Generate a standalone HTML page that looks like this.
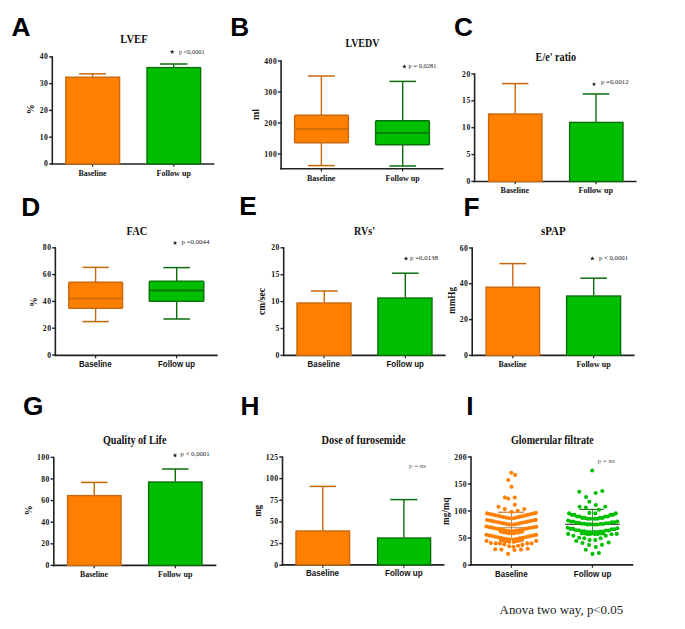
<!DOCTYPE html>
<html><head><meta charset="utf-8"><style>
html,body{margin:0;padding:0;background:#fff;overflow:hidden;}
svg{display:block;}
.S{font-family:"Liberation Serif",serif;}
.A{font-family:"Liberation Sans",sans-serif;}
</style></head><body>
<svg width="685" height="629" viewBox="0 0 685 629">
<rect width="685" height="629" fill="#fff"/>
<text class="A" x="0" y="0" font-size="25.5" font-weight="bold" fill="#000" transform="translate(11.60,35.94) scale(1.03,1)">A</text>
<text class="S" x="134.00" y="43.20" font-size="11.7" font-weight="bold" text-anchor="middle" fill="#111" textLength="27.50" lengthAdjust="spacingAndGlyphs">LVEF</text>
<line x1="52.30" y1="56.20" x2="52.30" y2="164.80" stroke="#222" stroke-width="1.6"/>
<line x1="51.50" y1="164.00" x2="214.40" y2="164.00" stroke="#222" stroke-width="1.6"/>
<line x1="49.10" y1="56.90" x2="52.30" y2="56.90" stroke="#222" stroke-width="1.4"/>
<text class="S" x="48.40" y="59.45" font-size="7.7" font-weight="bold" text-anchor="end" fill="#111" letter-spacing="0.45">40</text>
<line x1="49.10" y1="83.65" x2="52.30" y2="83.65" stroke="#222" stroke-width="1.4"/>
<text class="S" x="48.40" y="86.20" font-size="7.7" font-weight="bold" text-anchor="end" fill="#111" letter-spacing="0.45">30</text>
<line x1="49.10" y1="110.40" x2="52.30" y2="110.40" stroke="#222" stroke-width="1.4"/>
<text class="S" x="48.40" y="112.95" font-size="7.7" font-weight="bold" text-anchor="end" fill="#111" letter-spacing="0.45">20</text>
<line x1="49.10" y1="137.15" x2="52.30" y2="137.15" stroke="#222" stroke-width="1.4"/>
<text class="S" x="48.40" y="139.70" font-size="7.7" font-weight="bold" text-anchor="end" fill="#111" letter-spacing="0.45">10</text>
<line x1="49.10" y1="163.90" x2="52.30" y2="163.90" stroke="#222" stroke-width="1.4"/>
<text class="S" x="48.40" y="166.45" font-size="7.7" font-weight="bold" text-anchor="end" fill="#111" letter-spacing="0.45">0</text>
<line x1="92.60" y1="164.00" x2="92.60" y2="166.80" stroke="#222" stroke-width="1.2"/>
<line x1="173.80" y1="164.00" x2="173.80" y2="166.80" stroke="#222" stroke-width="1.2"/>
<line x1="92.60" y1="73.80" x2="92.60" y2="76.60" stroke="#C8680C" stroke-width="1.4"/>
<line x1="79.20" y1="73.80" x2="106.00" y2="73.80" stroke="#C8680C" stroke-width="1.5"/>
<rect x="65.80" y="77.20" width="53.80" height="86.80" fill="#FF8000" stroke="#C8680C" stroke-width="1.4" rx="0"/>
<line x1="173.70" y1="64.00" x2="173.70" y2="67.00" stroke="#0B6E0B" stroke-width="1.4"/>
<line x1="160.00" y1="64.00" x2="187.40" y2="64.00" stroke="#0B6E0B" stroke-width="1.5"/>
<rect x="147.00" y="67.60" width="53.60" height="96.40" fill="#00BF00" stroke="#0B6E0B" stroke-width="1.4" rx="0"/>
<polygon points="172.20,49.60 172.79,51.09 174.39,51.19 173.15,52.21 173.55,53.76 172.20,52.90 170.85,53.76 171.25,52.21 170.01,51.19 171.61,51.09" fill="#222"/>
<text class="S" x="179.00" y="53.60" font-size="6.4" font-weight="normal" text-anchor="start" fill="#222" textLength="25.60" lengthAdjust="spacingAndGlyphs">p &lt;0,0001</text>
<text class="S" x="92.60" y="175.70" font-size="8.6" font-weight="bold" text-anchor="middle" fill="#111" textLength="28.00" lengthAdjust="spacingAndGlyphs">Baseline</text>
<text class="S" x="173.80" y="175.70" font-size="8.6" font-weight="bold" text-anchor="middle" fill="#111" textLength="34.40" lengthAdjust="spacingAndGlyphs">Follow up</text>
<text class="S" x="0" y="0" font-size="10" font-weight="bold" text-anchor="middle" fill="#111" transform="translate(34.20,109.30) rotate(-90)">%</text>
<text class="A" x="0" y="0" font-size="25.5" font-weight="bold" fill="#000" transform="translate(230.20,35.94) scale(1.03,1)">B</text>
<text class="S" x="362.40" y="47.40" font-size="11.7" font-weight="bold" text-anchor="middle" fill="#111" textLength="34.00" lengthAdjust="spacingAndGlyphs">LVEDV</text>
<line x1="281.10" y1="60.30" x2="281.10" y2="169.60" stroke="#222" stroke-width="1.6"/>
<line x1="280.30" y1="168.80" x2="443.60" y2="168.80" stroke="#222" stroke-width="1.6"/>
<line x1="277.90" y1="61.00" x2="281.10" y2="61.00" stroke="#222" stroke-width="1.4"/>
<text class="S" x="277.20" y="63.55" font-size="7.7" font-weight="bold" text-anchor="end" fill="#111" letter-spacing="0.45">400</text>
<line x1="277.90" y1="92.00" x2="281.10" y2="92.00" stroke="#222" stroke-width="1.4"/>
<text class="S" x="277.20" y="94.55" font-size="7.7" font-weight="bold" text-anchor="end" fill="#111" letter-spacing="0.45">300</text>
<line x1="277.90" y1="123.00" x2="281.10" y2="123.00" stroke="#222" stroke-width="1.4"/>
<text class="S" x="277.20" y="125.55" font-size="7.7" font-weight="bold" text-anchor="end" fill="#111" letter-spacing="0.45">200</text>
<line x1="277.90" y1="154.00" x2="281.10" y2="154.00" stroke="#222" stroke-width="1.4"/>
<text class="S" x="277.20" y="156.55" font-size="7.7" font-weight="bold" text-anchor="end" fill="#111" letter-spacing="0.45">100</text>
<line x1="321.40" y1="168.80" x2="321.40" y2="171.60" stroke="#222" stroke-width="1.2"/>
<line x1="402.60" y1="168.80" x2="402.60" y2="171.60" stroke="#222" stroke-width="1.2"/>
<line x1="321.40" y1="76.00" x2="321.40" y2="165.60" stroke="#C8680C" stroke-width="1.4"/>
<line x1="308.00" y1="76.00" x2="334.80" y2="76.00" stroke="#C8680C" stroke-width="1.5"/>
<line x1="308.00" y1="165.60" x2="334.80" y2="165.60" stroke="#C8680C" stroke-width="1.5"/>
<rect x="294.60" y="115.20" width="53.80" height="27.50" fill="#FF8000" stroke="#C8680C" stroke-width="1.4" rx="0.8"/>
<line x1="294.50" y1="129.00" x2="348.50" y2="129.00" stroke="#C8680C" stroke-width="1.7"/>
<line x1="402.70" y1="81.40" x2="402.70" y2="166.00" stroke="#0B6E0B" stroke-width="1.4"/>
<line x1="389.40" y1="81.40" x2="416.00" y2="81.40" stroke="#0B6E0B" stroke-width="1.5"/>
<line x1="389.40" y1="166.00" x2="416.00" y2="166.00" stroke="#0B6E0B" stroke-width="1.5"/>
<rect x="375.60" y="120.80" width="53.80" height="24.00" fill="#00BF00" stroke="#0B6E0B" stroke-width="1.4" rx="0.8"/>
<line x1="375.50" y1="133.00" x2="429.50" y2="133.00" stroke="#0B6E0B" stroke-width="1.7"/>
<polygon points="404.40,64.30 404.99,65.79 406.59,65.89 405.35,66.91 405.75,68.46 404.40,67.60 403.05,68.46 403.45,66.91 402.21,65.89 403.81,65.79" fill="#222"/>
<text class="S" x="408.60" y="68.00" font-size="6.4" font-weight="normal" text-anchor="start" fill="#222" textLength="27.80" lengthAdjust="spacingAndGlyphs">p = 0,0281</text>
<text class="S" x="321.20" y="181.10" font-size="8.6" font-weight="bold" text-anchor="middle" fill="#111" textLength="28.40" lengthAdjust="spacingAndGlyphs">Baseline</text>
<text class="S" x="402.60" y="181.10" font-size="8.6" font-weight="bold" text-anchor="middle" fill="#111" textLength="34.00" lengthAdjust="spacingAndGlyphs">Follow up</text>
<text class="S" x="0" y="0" font-size="10" font-weight="bold" text-anchor="middle" fill="#111" textLength="11.00" lengthAdjust="spacingAndGlyphs" transform="translate(258.60,114.50) rotate(-90)">ml</text>
<text class="A" x="0" y="0" font-size="25.5" font-weight="bold" fill="#000" transform="translate(454.00,35.54) scale(1.03,1)">C</text>
<text class="S" x="555.80" y="61.00" font-size="11.7" font-weight="bold" text-anchor="middle" fill="#111" textLength="40.40" lengthAdjust="spacingAndGlyphs">E/e' ratio</text>
<line x1="474.60" y1="73.30" x2="474.60" y2="182.30" stroke="#222" stroke-width="1.6"/>
<line x1="473.80" y1="181.50" x2="636.60" y2="181.50" stroke="#222" stroke-width="1.6"/>
<line x1="471.40" y1="74.00" x2="474.60" y2="74.00" stroke="#222" stroke-width="1.4"/>
<text class="S" x="470.70" y="76.55" font-size="7.7" font-weight="bold" text-anchor="end" fill="#111" letter-spacing="0.45">20</text>
<line x1="471.40" y1="100.85" x2="474.60" y2="100.85" stroke="#222" stroke-width="1.4"/>
<text class="S" x="470.70" y="103.40" font-size="7.7" font-weight="bold" text-anchor="end" fill="#111" letter-spacing="0.45">15</text>
<line x1="471.40" y1="127.70" x2="474.60" y2="127.70" stroke="#222" stroke-width="1.4"/>
<text class="S" x="470.70" y="130.25" font-size="7.7" font-weight="bold" text-anchor="end" fill="#111" letter-spacing="0.45">10</text>
<line x1="471.40" y1="154.55" x2="474.60" y2="154.55" stroke="#222" stroke-width="1.4"/>
<text class="S" x="470.70" y="157.10" font-size="7.7" font-weight="bold" text-anchor="end" fill="#111" letter-spacing="0.45">5</text>
<line x1="471.40" y1="181.40" x2="474.60" y2="181.40" stroke="#222" stroke-width="1.4"/>
<text class="S" x="470.70" y="183.95" font-size="7.7" font-weight="bold" text-anchor="end" fill="#111" letter-spacing="0.45">0</text>
<line x1="515.20" y1="181.50" x2="515.20" y2="184.30" stroke="#222" stroke-width="1.2"/>
<line x1="596.00" y1="181.50" x2="596.00" y2="184.30" stroke="#222" stroke-width="1.2"/>
<line x1="515.20" y1="83.60" x2="515.20" y2="113.40" stroke="#C8680C" stroke-width="1.4"/>
<line x1="502.00" y1="83.60" x2="528.40" y2="83.60" stroke="#C8680C" stroke-width="1.5"/>
<rect x="488.60" y="114.00" width="53.40" height="67.50" fill="#FF8000" stroke="#C8680C" stroke-width="1.4" rx="0"/>
<line x1="596.00" y1="94.00" x2="596.00" y2="121.80" stroke="#0B6E0B" stroke-width="1.4"/>
<line x1="582.60" y1="94.00" x2="609.40" y2="94.00" stroke="#0B6E0B" stroke-width="1.5"/>
<rect x="569.60" y="122.40" width="53.40" height="59.10" fill="#00BF00" stroke="#0B6E0B" stroke-width="1.4" rx="0"/>
<polygon points="594.00,81.90 594.59,83.39 596.19,83.49 594.95,84.51 595.35,86.06 594.00,85.20 592.65,86.06 593.05,84.51 591.81,83.49 593.41,83.39" fill="#222"/>
<text class="S" x="601.00" y="84.20" font-size="6.4" font-weight="normal" text-anchor="start" fill="#222" textLength="27.60" lengthAdjust="spacingAndGlyphs">p =0,0012</text>
<text class="S" x="514.80" y="192.90" font-size="8.6" font-weight="bold" text-anchor="middle" fill="#111" textLength="28.40" lengthAdjust="spacingAndGlyphs">Baseline</text>
<text class="S" x="595.80" y="192.90" font-size="8.6" font-weight="bold" text-anchor="middle" fill="#111" textLength="34.40" lengthAdjust="spacingAndGlyphs">Follow up</text>
<text class="A" x="0" y="0" font-size="25.5" font-weight="bold" fill="#000" transform="translate(21.20,215.54) scale(1.03,1)">D</text>
<text class="S" x="137.00" y="235.00" font-size="11.7" font-weight="bold" text-anchor="middle" fill="#111" textLength="20.80" lengthAdjust="spacingAndGlyphs">FAC</text>
<line x1="55.35" y1="247.10" x2="55.35" y2="356.15" stroke="#222" stroke-width="1.6"/>
<line x1="54.55" y1="355.35" x2="217.60" y2="355.35" stroke="#222" stroke-width="1.6"/>
<line x1="52.15" y1="247.80" x2="55.35" y2="247.80" stroke="#222" stroke-width="1.4"/>
<text class="S" x="51.45" y="250.35" font-size="7.7" font-weight="bold" text-anchor="end" fill="#111" letter-spacing="0.45">80</text>
<line x1="52.15" y1="274.60" x2="55.35" y2="274.60" stroke="#222" stroke-width="1.4"/>
<text class="S" x="51.45" y="277.15" font-size="7.7" font-weight="bold" text-anchor="end" fill="#111" letter-spacing="0.45">60</text>
<line x1="52.15" y1="301.40" x2="55.35" y2="301.40" stroke="#222" stroke-width="1.4"/>
<text class="S" x="51.45" y="303.95" font-size="7.7" font-weight="bold" text-anchor="end" fill="#111" letter-spacing="0.45">40</text>
<line x1="52.15" y1="328.20" x2="55.35" y2="328.20" stroke="#222" stroke-width="1.4"/>
<text class="S" x="51.45" y="330.75" font-size="7.7" font-weight="bold" text-anchor="end" fill="#111" letter-spacing="0.45">20</text>
<line x1="52.15" y1="355.00" x2="55.35" y2="355.00" stroke="#222" stroke-width="1.4"/>
<text class="S" x="51.45" y="357.55" font-size="7.7" font-weight="bold" text-anchor="end" fill="#111" letter-spacing="0.45">0</text>
<line x1="95.60" y1="355.35" x2="95.60" y2="358.15" stroke="#222" stroke-width="1.2"/>
<line x1="176.60" y1="355.35" x2="176.60" y2="358.15" stroke="#222" stroke-width="1.2"/>
<line x1="95.60" y1="267.40" x2="95.60" y2="321.60" stroke="#C8680C" stroke-width="1.4"/>
<line x1="82.40" y1="267.40" x2="108.80" y2="267.40" stroke="#C8680C" stroke-width="1.5"/>
<line x1="82.40" y1="321.60" x2="108.80" y2="321.60" stroke="#C8680C" stroke-width="1.5"/>
<rect x="68.80" y="282.30" width="53.80" height="25.90" fill="#FF8000" stroke="#C8680C" stroke-width="1.4" rx="0.8"/>
<line x1="68.70" y1="298.50" x2="122.70" y2="298.50" stroke="#C8680C" stroke-width="1.7"/>
<line x1="176.70" y1="267.60" x2="176.70" y2="319.00" stroke="#0B6E0B" stroke-width="1.4"/>
<line x1="163.40" y1="267.60" x2="190.00" y2="267.60" stroke="#0B6E0B" stroke-width="1.5"/>
<line x1="163.40" y1="319.00" x2="190.00" y2="319.00" stroke="#0B6E0B" stroke-width="1.5"/>
<rect x="149.30" y="281.10" width="54.50" height="20.30" fill="#00BF00" stroke="#0B6E0B" stroke-width="1.4" rx="0.8"/>
<line x1="149.20" y1="290.40" x2="203.90" y2="290.40" stroke="#0B6E0B" stroke-width="1.7"/>
<polygon points="175.00,240.70 175.59,242.19 177.19,242.29 175.95,243.31 176.35,244.86 175.00,244.00 173.65,244.86 174.05,243.31 172.81,242.29 174.41,242.19" fill="#222"/>
<text class="S" x="181.60" y="244.00" font-size="6.4" font-weight="normal" text-anchor="start" fill="#222" textLength="27.80" lengthAdjust="spacingAndGlyphs">p =0,0044</text>
<text class="A" x="95.30" y="367.30" font-size="8.6" font-weight="bold" text-anchor="middle" fill="#111" textLength="32.60" lengthAdjust="spacingAndGlyphs">Baseline</text>
<text class="A" x="176.50" y="367.30" font-size="8.6" font-weight="bold" text-anchor="middle" fill="#111" textLength="37.00" lengthAdjust="spacingAndGlyphs">Follow up</text>
<text class="S" x="0" y="0" font-size="9.5" font-weight="bold" text-anchor="middle" fill="#111" transform="translate(37.20,302.00) rotate(-90)">%</text>
<text class="A" x="0" y="0" font-size="25.5" font-weight="bold" fill="#000" transform="translate(239.20,215.14) scale(1.03,1)">E</text>
<text class="S" x="364.50" y="235.00" font-size="11.7" font-weight="bold" text-anchor="middle" fill="#111" textLength="21.00" lengthAdjust="spacingAndGlyphs">RVs'</text>
<line x1="283.70" y1="247.10" x2="283.70" y2="356.15" stroke="#222" stroke-width="1.6"/>
<line x1="282.90" y1="355.35" x2="445.60" y2="355.35" stroke="#222" stroke-width="1.6"/>
<line x1="280.50" y1="247.80" x2="283.70" y2="247.80" stroke="#222" stroke-width="1.4"/>
<text class="S" x="279.80" y="250.35" font-size="7.7" font-weight="bold" text-anchor="end" fill="#111" letter-spacing="0.45">20</text>
<line x1="280.50" y1="274.70" x2="283.70" y2="274.70" stroke="#222" stroke-width="1.4"/>
<text class="S" x="279.80" y="277.25" font-size="7.7" font-weight="bold" text-anchor="end" fill="#111" letter-spacing="0.45">15</text>
<line x1="280.50" y1="301.60" x2="283.70" y2="301.60" stroke="#222" stroke-width="1.4"/>
<text class="S" x="279.80" y="304.15" font-size="7.7" font-weight="bold" text-anchor="end" fill="#111" letter-spacing="0.45">10</text>
<line x1="280.50" y1="328.50" x2="283.70" y2="328.50" stroke="#222" stroke-width="1.4"/>
<text class="S" x="279.80" y="331.05" font-size="7.7" font-weight="bold" text-anchor="end" fill="#111" letter-spacing="0.45">5</text>
<line x1="280.50" y1="355.40" x2="283.70" y2="355.40" stroke="#222" stroke-width="1.4"/>
<text class="S" x="279.80" y="357.95" font-size="7.7" font-weight="bold" text-anchor="end" fill="#111" letter-spacing="0.45">0</text>
<line x1="324.00" y1="355.35" x2="324.00" y2="358.15" stroke="#222" stroke-width="1.2"/>
<line x1="405.40" y1="355.35" x2="405.40" y2="358.15" stroke="#222" stroke-width="1.2"/>
<line x1="324.30" y1="291.00" x2="324.30" y2="302.40" stroke="#C8680C" stroke-width="1.4"/>
<line x1="311.00" y1="291.00" x2="337.60" y2="291.00" stroke="#C8680C" stroke-width="1.5"/>
<rect x="297.00" y="303.00" width="54.00" height="52.35" fill="#FF8000" stroke="#C8680C" stroke-width="1.4" rx="0"/>
<line x1="405.30" y1="273.20" x2="405.30" y2="297.40" stroke="#0B6E0B" stroke-width="1.4"/>
<line x1="392.00" y1="273.20" x2="418.60" y2="273.20" stroke="#0B6E0B" stroke-width="1.5"/>
<rect x="377.90" y="298.00" width="54.10" height="57.35" fill="#00BF00" stroke="#0B6E0B" stroke-width="1.4" rx="0"/>
<polygon points="406.00,256.30 406.59,257.79 408.19,257.89 406.95,258.91 407.35,260.46 406.00,259.60 404.65,260.46 405.05,258.91 403.81,257.89 405.41,257.79" fill="#222"/>
<text class="S" x="410.00" y="259.60" font-size="6.4" font-weight="normal" text-anchor="start" fill="#222" textLength="28.00" lengthAdjust="spacingAndGlyphs">p =0,0138</text>
<text class="A" x="323.80" y="367.30" font-size="8.6" font-weight="bold" text-anchor="middle" fill="#111" textLength="32.40" lengthAdjust="spacingAndGlyphs">Baseline</text>
<text class="A" x="405.20" y="367.30" font-size="8.6" font-weight="bold" text-anchor="middle" fill="#111" textLength="37.60" lengthAdjust="spacingAndGlyphs">Follow up</text>
<text class="S" x="0" y="0" font-size="9.6" font-weight="bold" text-anchor="middle" fill="#111" textLength="27.00" lengthAdjust="spacingAndGlyphs" transform="translate(265.40,301.50) rotate(-90)">cm/sec</text>
<text class="A" x="0" y="0" font-size="25.5" font-weight="bold" fill="#000" transform="translate(463.60,215.54) scale(1.03,1)">F</text>
<text class="S" x="553.30" y="235.00" font-size="11.7" font-weight="bold" text-anchor="middle" fill="#111" textLength="24.60" lengthAdjust="spacingAndGlyphs">sPAP</text>
<line x1="472.20" y1="247.30" x2="472.20" y2="356.15" stroke="#222" stroke-width="1.6"/>
<line x1="471.40" y1="355.35" x2="634.60" y2="355.35" stroke="#222" stroke-width="1.6"/>
<line x1="469.00" y1="248.00" x2="472.20" y2="248.00" stroke="#222" stroke-width="1.4"/>
<text class="S" x="468.30" y="250.55" font-size="7.7" font-weight="bold" text-anchor="end" fill="#111" letter-spacing="0.45">60</text>
<line x1="469.00" y1="283.80" x2="472.20" y2="283.80" stroke="#222" stroke-width="1.4"/>
<text class="S" x="468.30" y="286.35" font-size="7.7" font-weight="bold" text-anchor="end" fill="#111" letter-spacing="0.45">40</text>
<line x1="469.00" y1="319.60" x2="472.20" y2="319.60" stroke="#222" stroke-width="1.4"/>
<text class="S" x="468.30" y="322.15" font-size="7.7" font-weight="bold" text-anchor="end" fill="#111" letter-spacing="0.45">20</text>
<line x1="469.00" y1="355.40" x2="472.20" y2="355.40" stroke="#222" stroke-width="1.4"/>
<text class="S" x="468.30" y="357.95" font-size="7.7" font-weight="bold" text-anchor="end" fill="#111" letter-spacing="0.45">0</text>
<line x1="512.80" y1="355.35" x2="512.80" y2="358.15" stroke="#222" stroke-width="1.2"/>
<line x1="593.60" y1="355.35" x2="593.60" y2="358.15" stroke="#222" stroke-width="1.2"/>
<line x1="512.80" y1="263.60" x2="512.80" y2="286.60" stroke="#C8680C" stroke-width="1.4"/>
<line x1="499.40" y1="263.60" x2="526.20" y2="263.60" stroke="#C8680C" stroke-width="1.5"/>
<rect x="486.10" y="287.20" width="53.50" height="68.15" fill="#FF8000" stroke="#C8680C" stroke-width="1.4" rx="0"/>
<line x1="593.70" y1="278.20" x2="593.70" y2="295.40" stroke="#0B6E0B" stroke-width="1.4"/>
<line x1="580.40" y1="278.20" x2="607.00" y2="278.20" stroke="#0B6E0B" stroke-width="1.5"/>
<rect x="566.60" y="296.00" width="54.00" height="59.35" fill="#00BF00" stroke="#0B6E0B" stroke-width="1.4" rx="0"/>
<polygon points="592.40,256.30 592.99,257.79 594.59,257.89 593.35,258.91 593.75,260.46 592.40,259.60 591.05,260.46 591.45,258.91 590.21,257.89 591.81,257.79" fill="#222"/>
<text class="S" x="599.00" y="259.60" font-size="6.4" font-weight="normal" text-anchor="start" fill="#222" textLength="29.00" lengthAdjust="spacingAndGlyphs">p &lt; 0,0001</text>
<text class="S" x="512.50" y="367.10" font-size="8.6" font-weight="bold" text-anchor="middle" fill="#111" textLength="28.20" lengthAdjust="spacingAndGlyphs">Baseline</text>
<text class="S" x="593.60" y="367.10" font-size="8.6" font-weight="bold" text-anchor="middle" fill="#111" textLength="34.40" lengthAdjust="spacingAndGlyphs">Follow up</text>
<text class="S" x="0" y="0" font-size="9.6" font-weight="bold" text-anchor="middle" fill="#111" textLength="27.00" lengthAdjust="spacingAndGlyphs" transform="translate(455.00,300.50) rotate(-90)">mmHg</text>
<text class="A" x="0" y="0" font-size="25.5" font-weight="bold" fill="#000" transform="translate(23.00,414.54) scale(1.03,1)">G</text>
<text class="S" x="134.70" y="443.60" font-size="11.7" font-weight="bold" text-anchor="middle" fill="#111" textLength="63.40" lengthAdjust="spacingAndGlyphs">Quality of Life</text>
<line x1="53.80" y1="456.70" x2="53.80" y2="566.15" stroke="#222" stroke-width="1.6"/>
<line x1="53.00" y1="565.35" x2="216.40" y2="565.35" stroke="#222" stroke-width="1.6"/>
<line x1="50.60" y1="457.40" x2="53.80" y2="457.40" stroke="#222" stroke-width="1.4"/>
<text class="S" x="49.90" y="459.95" font-size="7.7" font-weight="bold" text-anchor="end" fill="#111" letter-spacing="0.45">100</text>
<line x1="50.60" y1="479.00" x2="53.80" y2="479.00" stroke="#222" stroke-width="1.4"/>
<text class="S" x="49.90" y="481.55" font-size="7.7" font-weight="bold" text-anchor="end" fill="#111" letter-spacing="0.45">80</text>
<line x1="50.60" y1="500.60" x2="53.80" y2="500.60" stroke="#222" stroke-width="1.4"/>
<text class="S" x="49.90" y="503.15" font-size="7.7" font-weight="bold" text-anchor="end" fill="#111" letter-spacing="0.45">60</text>
<line x1="50.60" y1="522.20" x2="53.80" y2="522.20" stroke="#222" stroke-width="1.4"/>
<text class="S" x="49.90" y="524.75" font-size="7.7" font-weight="bold" text-anchor="end" fill="#111" letter-spacing="0.45">40</text>
<line x1="50.60" y1="543.80" x2="53.80" y2="543.80" stroke="#222" stroke-width="1.4"/>
<text class="S" x="49.90" y="546.35" font-size="7.7" font-weight="bold" text-anchor="end" fill="#111" letter-spacing="0.45">20</text>
<line x1="50.60" y1="565.40" x2="53.80" y2="565.40" stroke="#222" stroke-width="1.4"/>
<text class="S" x="49.90" y="567.95" font-size="7.7" font-weight="bold" text-anchor="end" fill="#111" letter-spacing="0.45">0</text>
<line x1="94.20" y1="565.35" x2="94.20" y2="568.15" stroke="#222" stroke-width="1.2"/>
<line x1="175.40" y1="565.35" x2="175.40" y2="568.15" stroke="#222" stroke-width="1.2"/>
<line x1="94.30" y1="482.40" x2="94.30" y2="495.00" stroke="#C8680C" stroke-width="1.4"/>
<line x1="81.00" y1="482.40" x2="107.60" y2="482.40" stroke="#C8680C" stroke-width="1.5"/>
<rect x="67.60" y="495.60" width="53.40" height="69.75" fill="#FF8000" stroke="#C8680C" stroke-width="1.4" rx="0"/>
<line x1="175.30" y1="469.00" x2="175.30" y2="481.40" stroke="#0B6E0B" stroke-width="1.4"/>
<line x1="162.00" y1="469.00" x2="188.60" y2="469.00" stroke="#0B6E0B" stroke-width="1.5"/>
<rect x="148.60" y="482.00" width="53.40" height="83.35" fill="#00BF00" stroke="#0B6E0B" stroke-width="1.4" rx="0"/>
<polygon points="175.00,453.10 175.59,454.59 177.19,454.69 175.95,455.71 176.35,457.26 175.00,456.40 173.65,457.26 174.05,455.71 172.81,454.69 174.41,454.59" fill="#222"/>
<text class="S" x="180.60" y="456.40" font-size="6.4" font-weight="normal" text-anchor="start" fill="#222" textLength="29.00" lengthAdjust="spacingAndGlyphs">p &lt; 0,0001</text>
<text class="S" x="94.00" y="577.10" font-size="8.6" font-weight="bold" text-anchor="middle" fill="#111" textLength="28.00" lengthAdjust="spacingAndGlyphs">Baseline</text>
<text class="S" x="175.20" y="577.10" font-size="8.6" font-weight="bold" text-anchor="middle" fill="#111" textLength="34.40" lengthAdjust="spacingAndGlyphs">Follow up</text>
<text class="S" x="0" y="0" font-size="10" font-weight="bold" text-anchor="middle" fill="#111" transform="translate(31.60,510.30) rotate(-90)">%</text>
<text class="A" x="0" y="0" font-size="25.5" font-weight="bold" fill="#000" transform="translate(240.60,414.54) scale(1.03,1)">H</text>
<text class="S" x="363.60" y="444.40" font-size="11.7" font-weight="bold" text-anchor="middle" fill="#111" textLength="84.00" lengthAdjust="spacingAndGlyphs">Dose of furosemide</text>
<line x1="282.50" y1="456.30" x2="282.50" y2="565.70" stroke="#222" stroke-width="1.6"/>
<line x1="281.70" y1="564.90" x2="444.40" y2="564.90" stroke="#222" stroke-width="1.6"/>
<line x1="279.30" y1="457.00" x2="282.50" y2="457.00" stroke="#222" stroke-width="1.4"/>
<text class="S" x="278.60" y="459.55" font-size="7.7" font-weight="bold" text-anchor="end" fill="#111" letter-spacing="0.45">125</text>
<line x1="279.30" y1="478.64" x2="282.50" y2="478.64" stroke="#222" stroke-width="1.4"/>
<text class="S" x="278.60" y="481.19" font-size="7.7" font-weight="bold" text-anchor="end" fill="#111" letter-spacing="0.45">100</text>
<line x1="279.30" y1="500.28" x2="282.50" y2="500.28" stroke="#222" stroke-width="1.4"/>
<text class="S" x="278.60" y="502.83" font-size="7.7" font-weight="bold" text-anchor="end" fill="#111" letter-spacing="0.45">75</text>
<line x1="279.30" y1="521.92" x2="282.50" y2="521.92" stroke="#222" stroke-width="1.4"/>
<text class="S" x="278.60" y="524.47" font-size="7.7" font-weight="bold" text-anchor="end" fill="#111" letter-spacing="0.45">50</text>
<line x1="279.30" y1="543.56" x2="282.50" y2="543.56" stroke="#222" stroke-width="1.4"/>
<text class="S" x="278.60" y="546.11" font-size="7.7" font-weight="bold" text-anchor="end" fill="#111" letter-spacing="0.45">25</text>
<line x1="279.30" y1="565.20" x2="282.50" y2="565.20" stroke="#222" stroke-width="1.4"/>
<text class="S" x="278.60" y="567.75" font-size="7.7" font-weight="bold" text-anchor="end" fill="#111" letter-spacing="0.45">0</text>
<line x1="322.80" y1="564.90" x2="322.80" y2="567.70" stroke="#222" stroke-width="1.2"/>
<line x1="403.80" y1="564.90" x2="403.80" y2="567.70" stroke="#222" stroke-width="1.2"/>
<line x1="322.80" y1="486.40" x2="322.80" y2="530.40" stroke="#C8680C" stroke-width="1.4"/>
<line x1="309.60" y1="486.40" x2="336.00" y2="486.40" stroke="#C8680C" stroke-width="1.5"/>
<rect x="296.00" y="531.00" width="53.60" height="33.90" fill="#FF8000" stroke="#C8680C" stroke-width="1.4" rx="0"/>
<line x1="403.90" y1="499.60" x2="403.90" y2="537.40" stroke="#0B6E0B" stroke-width="1.4"/>
<line x1="390.40" y1="499.60" x2="417.40" y2="499.60" stroke="#0B6E0B" stroke-width="1.5"/>
<rect x="377.60" y="538.00" width="53.00" height="26.90" fill="#00BF00" stroke="#0B6E0B" stroke-width="1.4" rx="0"/>
<text class="S" x="409.00" y="468.00" font-size="5.6" font-weight="normal" text-anchor="start" fill="#555" textLength="17.00" lengthAdjust="spacingAndGlyphs">p = ns</text>
<text class="A" x="322.50" y="576.30" font-size="8.6" font-weight="bold" text-anchor="middle" fill="#111" textLength="33.00" lengthAdjust="spacingAndGlyphs">Baseline</text>
<text class="A" x="403.80" y="576.30" font-size="8.6" font-weight="bold" text-anchor="middle" fill="#111" textLength="37.60" lengthAdjust="spacingAndGlyphs">Follow up</text>
<text class="S" x="0" y="0" font-size="9.6" font-weight="bold" text-anchor="middle" fill="#111" textLength="11.60" lengthAdjust="spacingAndGlyphs" transform="translate(261.40,510.80) rotate(-90)">mg</text>
<text class="A" x="0" y="0" font-size="25.5" font-weight="bold" fill="#000" transform="translate(466.20,414.54) scale(1.03,1)">I</text>
<text class="S" x="552.40" y="444.00" font-size="11.7" font-weight="bold" text-anchor="middle" fill="#111" textLength="82.80" lengthAdjust="spacingAndGlyphs">Glomerular filtrate</text>
<line x1="471.00" y1="456.30" x2="471.00" y2="565.70" stroke="#222" stroke-width="1.6"/>
<line x1="470.20" y1="564.90" x2="633.30" y2="564.90" stroke="#222" stroke-width="1.6"/>
<line x1="467.80" y1="457.00" x2="471.00" y2="457.00" stroke="#222" stroke-width="1.4"/>
<text class="S" x="467.10" y="459.55" font-size="7.7" font-weight="bold" text-anchor="end" fill="#111" letter-spacing="0.45">200</text>
<line x1="467.80" y1="484.02" x2="471.00" y2="484.02" stroke="#222" stroke-width="1.4"/>
<text class="S" x="467.10" y="486.57" font-size="7.7" font-weight="bold" text-anchor="end" fill="#111" letter-spacing="0.45">150</text>
<line x1="467.80" y1="511.05" x2="471.00" y2="511.05" stroke="#222" stroke-width="1.4"/>
<text class="S" x="467.10" y="513.60" font-size="7.7" font-weight="bold" text-anchor="end" fill="#111" letter-spacing="0.45">100</text>
<line x1="467.80" y1="538.08" x2="471.00" y2="538.08" stroke="#222" stroke-width="1.4"/>
<text class="S" x="467.10" y="540.62" font-size="7.7" font-weight="bold" text-anchor="end" fill="#111" letter-spacing="0.45">50</text>
<line x1="467.80" y1="565.10" x2="471.00" y2="565.10" stroke="#222" stroke-width="1.4"/>
<text class="S" x="467.10" y="567.65" font-size="7.7" font-weight="bold" text-anchor="end" fill="#111" letter-spacing="0.45">0</text>
<line x1="511.40" y1="564.90" x2="511.40" y2="567.70" stroke="#222" stroke-width="1.2"/>
<line x1="592.40" y1="564.90" x2="592.40" y2="567.70" stroke="#222" stroke-width="1.2"/>
<text class="S" x="597.50" y="463.30" font-size="5.6" font-weight="normal" text-anchor="start" fill="#555" textLength="17.20" lengthAdjust="spacingAndGlyphs">p = ns</text>
<text class="A" x="511.30" y="576.70" font-size="8.6" font-weight="bold" text-anchor="middle" fill="#111" textLength="32.60" lengthAdjust="spacingAndGlyphs">Baseline</text>
<text class="A" x="592.60" y="576.70" font-size="8.6" font-weight="bold" text-anchor="middle" fill="#111" textLength="37.60" lengthAdjust="spacingAndGlyphs">Follow up</text>
<text class="S" x="0" y="0" font-size="9.6" font-weight="bold" text-anchor="middle" fill="#111" textLength="27.60" lengthAdjust="spacingAndGlyphs" transform="translate(449.20,511.20) rotate(-90)">mg/mq</text>
<line x1="498.1" y1="512.2" x2="523.9" y2="512.2" stroke="#C8680C" stroke-width="1.1"/>
<line x1="511.5" y1="512.2" x2="511.5" y2="540" stroke="#C8680C" stroke-width="0.9" opacity="0.85"/>
<line x1="494.7" y1="527.7" x2="527.2" y2="527.7" stroke="#8a4a00" stroke-width="0.9" opacity="0.7"/>
<line x1="579.6" y1="509.4" x2="603.9" y2="509.4" stroke="#0B6E0B" stroke-width="1.1"/>
<line x1="592.5" y1="509.4" x2="592.5" y2="535.3" stroke="#0B6E0B" stroke-width="0.9" opacity="0.85"/>
<line x1="565.2" y1="524.3" x2="619.7" y2="524.3" stroke="#1a1a1a" stroke-width="1.0"/>
<circle cx="511.20" cy="472.70" r="2.05" fill="#FF8000"/>
<circle cx="515.10" cy="474.90" r="2.05" fill="#FF8000"/>
<circle cx="508.20" cy="480.00" r="2.05" fill="#FF8000"/>
<circle cx="511.50" cy="486.80" r="2.05" fill="#FF8000"/>
<circle cx="504.90" cy="497.50" r="2.05" fill="#FF8000"/>
<circle cx="508.20" cy="498.50" r="2.05" fill="#FF8000"/>
<circle cx="514.80" cy="497.50" r="2.05" fill="#FF8000"/>
<circle cx="498.60" cy="506.70" r="2.05" fill="#FF8000"/>
<circle cx="514.80" cy="504.80" r="2.05" fill="#FF8000"/>
<circle cx="504.80" cy="509.10" r="2.05" fill="#FF8000"/>
<circle cx="524.30" cy="509.10" r="2.05" fill="#FF8000"/>
<circle cx="511.50" cy="511.90" r="2.05" fill="#FF8000"/>
<circle cx="517.70" cy="510.70" r="2.05" fill="#FF8000"/>
<circle cx="509.30" cy="518.31" r="2.05" fill="#FF8000"/>
<circle cx="506.53" cy="517.70" r="2.05" fill="#FF8000"/>
<circle cx="503.75" cy="517.08" r="2.05" fill="#FF8000"/>
<circle cx="500.98" cy="516.47" r="2.05" fill="#FF8000"/>
<circle cx="498.20" cy="515.86" r="2.05" fill="#FF8000"/>
<circle cx="495.43" cy="515.24" r="2.05" fill="#FF8000"/>
<circle cx="492.65" cy="514.63" r="2.05" fill="#FF8000"/>
<circle cx="489.88" cy="514.01" r="2.05" fill="#FF8000"/>
<circle cx="487.10" cy="513.40" r="2.05" fill="#FF8000"/>
<circle cx="513.70" cy="518.27" r="2.05" fill="#FF8000"/>
<circle cx="516.46" cy="517.60" r="2.05" fill="#FF8000"/>
<circle cx="519.23" cy="516.92" r="2.05" fill="#FF8000"/>
<circle cx="521.99" cy="516.25" r="2.05" fill="#FF8000"/>
<circle cx="524.75" cy="515.58" r="2.05" fill="#FF8000"/>
<circle cx="527.51" cy="514.91" r="2.05" fill="#FF8000"/>
<circle cx="530.27" cy="514.24" r="2.05" fill="#FF8000"/>
<circle cx="533.04" cy="513.57" r="2.05" fill="#FF8000"/>
<circle cx="535.80" cy="512.90" r="2.05" fill="#FF8000"/>
<circle cx="509.30" cy="524.55" r="2.05" fill="#FF8000"/>
<circle cx="506.53" cy="523.98" r="2.05" fill="#FF8000"/>
<circle cx="503.75" cy="523.41" r="2.05" fill="#FF8000"/>
<circle cx="500.98" cy="522.84" r="2.05" fill="#FF8000"/>
<circle cx="498.20" cy="522.27" r="2.05" fill="#FF8000"/>
<circle cx="495.43" cy="521.71" r="2.05" fill="#FF8000"/>
<circle cx="492.65" cy="521.14" r="2.05" fill="#FF8000"/>
<circle cx="489.88" cy="520.57" r="2.05" fill="#FF8000"/>
<circle cx="487.10" cy="520.00" r="2.05" fill="#FF8000"/>
<circle cx="513.70" cy="524.54" r="2.05" fill="#FF8000"/>
<circle cx="516.46" cy="523.96" r="2.05" fill="#FF8000"/>
<circle cx="519.23" cy="523.38" r="2.05" fill="#FF8000"/>
<circle cx="521.99" cy="522.80" r="2.05" fill="#FF8000"/>
<circle cx="524.75" cy="522.22" r="2.05" fill="#FF8000"/>
<circle cx="527.51" cy="521.64" r="2.05" fill="#FF8000"/>
<circle cx="530.27" cy="521.06" r="2.05" fill="#FF8000"/>
<circle cx="533.04" cy="520.48" r="2.05" fill="#FF8000"/>
<circle cx="535.80" cy="519.90" r="2.05" fill="#FF8000"/>
<circle cx="509.30" cy="531.15" r="2.05" fill="#FF8000"/>
<circle cx="506.44" cy="530.57" r="2.05" fill="#FF8000"/>
<circle cx="503.57" cy="529.99" r="2.05" fill="#FF8000"/>
<circle cx="500.71" cy="529.41" r="2.05" fill="#FF8000"/>
<circle cx="497.85" cy="528.83" r="2.05" fill="#FF8000"/>
<circle cx="494.99" cy="528.24" r="2.05" fill="#FF8000"/>
<circle cx="492.12" cy="527.66" r="2.05" fill="#FF8000"/>
<circle cx="489.26" cy="527.08" r="2.05" fill="#FF8000"/>
<circle cx="486.40" cy="526.50" r="2.05" fill="#FF8000"/>
<circle cx="513.70" cy="531.17" r="2.05" fill="#FF8000"/>
<circle cx="516.53" cy="530.61" r="2.05" fill="#FF8000"/>
<circle cx="519.35" cy="530.05" r="2.05" fill="#FF8000"/>
<circle cx="522.17" cy="529.49" r="2.05" fill="#FF8000"/>
<circle cx="525.00" cy="528.93" r="2.05" fill="#FF8000"/>
<circle cx="527.83" cy="528.37" r="2.05" fill="#FF8000"/>
<circle cx="530.65" cy="527.82" r="2.05" fill="#FF8000"/>
<circle cx="533.47" cy="527.26" r="2.05" fill="#FF8000"/>
<circle cx="536.30" cy="526.70" r="2.05" fill="#FF8000"/>
<circle cx="509.30" cy="533.35" r="2.05" fill="#FF8000"/>
<circle cx="506.44" cy="532.77" r="2.05" fill="#FF8000"/>
<circle cx="503.57" cy="532.19" r="2.05" fill="#FF8000"/>
<circle cx="500.71" cy="531.61" r="2.05" fill="#FF8000"/>
<circle cx="513.70" cy="533.37" r="2.05" fill="#FF8000"/>
<circle cx="516.53" cy="532.81" r="2.05" fill="#FF8000"/>
<circle cx="519.35" cy="532.25" r="2.05" fill="#FF8000"/>
<circle cx="522.17" cy="531.69" r="2.05" fill="#FF8000"/>
<circle cx="509.30" cy="539.64" r="2.05" fill="#FF8000"/>
<circle cx="506.44" cy="539.03" r="2.05" fill="#FF8000"/>
<circle cx="503.57" cy="538.43" r="2.05" fill="#FF8000"/>
<circle cx="500.71" cy="537.82" r="2.05" fill="#FF8000"/>
<circle cx="497.85" cy="537.22" r="2.05" fill="#FF8000"/>
<circle cx="494.99" cy="536.61" r="2.05" fill="#FF8000"/>
<circle cx="492.12" cy="536.01" r="2.05" fill="#FF8000"/>
<circle cx="489.26" cy="535.40" r="2.05" fill="#FF8000"/>
<circle cx="486.40" cy="534.80" r="2.05" fill="#FF8000"/>
<circle cx="513.70" cy="539.63" r="2.05" fill="#FF8000"/>
<circle cx="516.53" cy="539.03" r="2.05" fill="#FF8000"/>
<circle cx="519.35" cy="538.42" r="2.05" fill="#FF8000"/>
<circle cx="522.17" cy="537.82" r="2.05" fill="#FF8000"/>
<circle cx="525.00" cy="537.21" r="2.05" fill="#FF8000"/>
<circle cx="527.83" cy="536.61" r="2.05" fill="#FF8000"/>
<circle cx="530.65" cy="536.01" r="2.05" fill="#FF8000"/>
<circle cx="533.47" cy="535.40" r="2.05" fill="#FF8000"/>
<circle cx="536.30" cy="534.80" r="2.05" fill="#FF8000"/>
<circle cx="509.30" cy="541.84" r="2.05" fill="#FF8000"/>
<circle cx="506.44" cy="541.23" r="2.05" fill="#FF8000"/>
<circle cx="503.57" cy="540.63" r="2.05" fill="#FF8000"/>
<circle cx="500.71" cy="540.02" r="2.05" fill="#FF8000"/>
<circle cx="513.70" cy="541.83" r="2.05" fill="#FF8000"/>
<circle cx="516.53" cy="541.23" r="2.05" fill="#FF8000"/>
<circle cx="519.35" cy="540.62" r="2.05" fill="#FF8000"/>
<circle cx="522.17" cy="540.02" r="2.05" fill="#FF8000"/>
<circle cx="486.60" cy="540.90" r="2.05" fill="#FF8000"/>
<circle cx="490.90" cy="543.00" r="2.05" fill="#FF8000"/>
<circle cx="495.70" cy="543.40" r="2.05" fill="#FF8000"/>
<circle cx="500.00" cy="543.40" r="2.05" fill="#FF8000"/>
<circle cx="504.30" cy="544.40" r="2.05" fill="#FF8000"/>
<circle cx="509.10" cy="546.30" r="2.05" fill="#FF8000"/>
<circle cx="513.40" cy="546.80" r="2.05" fill="#FF8000"/>
<circle cx="518.10" cy="545.80" r="2.05" fill="#FF8000"/>
<circle cx="522.40" cy="544.90" r="2.05" fill="#FF8000"/>
<circle cx="527.20" cy="543.40" r="2.05" fill="#FF8000"/>
<circle cx="531.50" cy="543.40" r="2.05" fill="#FF8000"/>
<circle cx="536.30" cy="540.90" r="2.05" fill="#FF8000"/>
<circle cx="495.20" cy="549.20" r="2.05" fill="#FF8000"/>
<circle cx="501.40" cy="549.60" r="2.05" fill="#FF8000"/>
<circle cx="514.50" cy="550.10" r="2.05" fill="#FF8000"/>
<circle cx="521.00" cy="549.60" r="2.05" fill="#FF8000"/>
<circle cx="527.70" cy="548.70" r="2.05" fill="#FF8000"/>
<circle cx="508.10" cy="553.90" r="2.05" fill="#FF8000"/>
<circle cx="592.20" cy="470.50" r="2.05" fill="#00BF00"/>
<circle cx="579.30" cy="491.70" r="2.05" fill="#00BF00"/>
<circle cx="595.70" cy="493.00" r="2.05" fill="#00BF00"/>
<circle cx="602.30" cy="491.00" r="2.05" fill="#00BF00"/>
<circle cx="586.10" cy="497.00" r="2.05" fill="#00BF00"/>
<circle cx="589.30" cy="501.80" r="2.05" fill="#00BF00"/>
<circle cx="579.60" cy="506.70" r="2.05" fill="#00BF00"/>
<circle cx="585.80" cy="507.60" r="2.05" fill="#00BF00"/>
<circle cx="595.80" cy="505.00" r="2.05" fill="#00BF00"/>
<circle cx="605.30" cy="506.70" r="2.05" fill="#00BF00"/>
<circle cx="598.90" cy="509.80" r="2.05" fill="#00BF00"/>
<circle cx="589.40" cy="512.90" r="2.05" fill="#00BF00"/>
<circle cx="595.30" cy="513.40" r="2.05" fill="#00BF00"/>
<circle cx="590.20" cy="518.82" r="2.05" fill="#00BF00"/>
<circle cx="587.56" cy="518.82" r="2.05" fill="#00BF00"/>
<circle cx="584.92" cy="517.90" r="2.05" fill="#00BF00"/>
<circle cx="582.29" cy="517.90" r="2.05" fill="#00BF00"/>
<circle cx="579.65" cy="516.56" r="2.05" fill="#00BF00"/>
<circle cx="577.01" cy="516.56" r="2.05" fill="#00BF00"/>
<circle cx="574.38" cy="514.87" r="2.05" fill="#00BF00"/>
<circle cx="571.74" cy="514.87" r="2.05" fill="#00BF00"/>
<circle cx="569.10" cy="513.40" r="2.05" fill="#00BF00"/>
<circle cx="594.60" cy="518.82" r="2.05" fill="#00BF00"/>
<circle cx="597.25" cy="518.82" r="2.05" fill="#00BF00"/>
<circle cx="599.90" cy="517.90" r="2.05" fill="#00BF00"/>
<circle cx="602.55" cy="517.90" r="2.05" fill="#00BF00"/>
<circle cx="605.20" cy="516.56" r="2.05" fill="#00BF00"/>
<circle cx="607.85" cy="516.56" r="2.05" fill="#00BF00"/>
<circle cx="610.50" cy="514.87" r="2.05" fill="#00BF00"/>
<circle cx="613.15" cy="514.87" r="2.05" fill="#00BF00"/>
<circle cx="615.80" cy="513.40" r="2.05" fill="#00BF00"/>
<circle cx="590.20" cy="524.41" r="2.05" fill="#00BF00"/>
<circle cx="587.44" cy="524.41" r="2.05" fill="#00BF00"/>
<circle cx="584.67" cy="523.75" r="2.05" fill="#00BF00"/>
<circle cx="581.91" cy="523.75" r="2.05" fill="#00BF00"/>
<circle cx="579.15" cy="522.78" r="2.05" fill="#00BF00"/>
<circle cx="576.39" cy="522.78" r="2.05" fill="#00BF00"/>
<circle cx="573.62" cy="521.56" r="2.05" fill="#00BF00"/>
<circle cx="570.86" cy="521.56" r="2.05" fill="#00BF00"/>
<circle cx="568.10" cy="520.50" r="2.05" fill="#00BF00"/>
<circle cx="594.60" cy="524.46" r="2.05" fill="#00BF00"/>
<circle cx="597.44" cy="524.46" r="2.05" fill="#00BF00"/>
<circle cx="600.27" cy="523.96" r="2.05" fill="#00BF00"/>
<circle cx="603.11" cy="523.96" r="2.05" fill="#00BF00"/>
<circle cx="605.95" cy="523.23" r="2.05" fill="#00BF00"/>
<circle cx="608.79" cy="523.23" r="2.05" fill="#00BF00"/>
<circle cx="611.62" cy="522.30" r="2.05" fill="#00BF00"/>
<circle cx="614.46" cy="522.30" r="2.05" fill="#00BF00"/>
<circle cx="617.30" cy="521.50" r="2.05" fill="#00BF00"/>
<circle cx="590.20" cy="532.09" r="2.05" fill="#00BF00"/>
<circle cx="587.38" cy="532.09" r="2.05" fill="#00BF00"/>
<circle cx="584.55" cy="531.35" r="2.05" fill="#00BF00"/>
<circle cx="581.72" cy="531.35" r="2.05" fill="#00BF00"/>
<circle cx="578.90" cy="530.26" r="2.05" fill="#00BF00"/>
<circle cx="576.08" cy="530.26" r="2.05" fill="#00BF00"/>
<circle cx="573.25" cy="528.89" r="2.05" fill="#00BF00"/>
<circle cx="570.42" cy="528.89" r="2.05" fill="#00BF00"/>
<circle cx="567.60" cy="527.70" r="2.05" fill="#00BF00"/>
<circle cx="594.60" cy="532.11" r="2.05" fill="#00BF00"/>
<circle cx="597.44" cy="532.11" r="2.05" fill="#00BF00"/>
<circle cx="600.27" cy="531.45" r="2.05" fill="#00BF00"/>
<circle cx="603.11" cy="531.45" r="2.05" fill="#00BF00"/>
<circle cx="605.95" cy="530.48" r="2.05" fill="#00BF00"/>
<circle cx="608.79" cy="530.48" r="2.05" fill="#00BF00"/>
<circle cx="611.62" cy="529.26" r="2.05" fill="#00BF00"/>
<circle cx="614.46" cy="529.26" r="2.05" fill="#00BF00"/>
<circle cx="617.30" cy="528.20" r="2.05" fill="#00BF00"/>
<circle cx="590.20" cy="534.09" r="2.05" fill="#00BF00"/>
<circle cx="587.38" cy="534.09" r="2.05" fill="#00BF00"/>
<circle cx="584.55" cy="533.35" r="2.05" fill="#00BF00"/>
<circle cx="581.72" cy="533.35" r="2.05" fill="#00BF00"/>
<circle cx="594.60" cy="534.11" r="2.05" fill="#00BF00"/>
<circle cx="597.44" cy="534.11" r="2.05" fill="#00BF00"/>
<circle cx="600.27" cy="533.45" r="2.05" fill="#00BF00"/>
<circle cx="603.11" cy="533.45" r="2.05" fill="#00BF00"/>
<circle cx="568.10" cy="533.90" r="2.05" fill="#00BF00"/>
<circle cx="573.40" cy="535.80" r="2.05" fill="#00BF00"/>
<circle cx="579.10" cy="537.70" r="2.05" fill="#00BF00"/>
<circle cx="584.30" cy="538.20" r="2.05" fill="#00BF00"/>
<circle cx="589.60" cy="540.10" r="2.05" fill="#00BF00"/>
<circle cx="595.30" cy="540.10" r="2.05" fill="#00BF00"/>
<circle cx="600.60" cy="538.20" r="2.05" fill="#00BF00"/>
<circle cx="605.80" cy="535.80" r="2.05" fill="#00BF00"/>
<circle cx="611.50" cy="534.20" r="2.05" fill="#00BF00"/>
<circle cx="616.80" cy="533.90" r="2.05" fill="#00BF00"/>
<circle cx="576.20" cy="541.00" r="2.05" fill="#00BF00"/>
<circle cx="582.40" cy="543.00" r="2.05" fill="#00BF00"/>
<circle cx="589.10" cy="545.00" r="2.05" fill="#00BF00"/>
<circle cx="595.80" cy="547.00" r="2.05" fill="#00BF00"/>
<circle cx="602.00" cy="544.70" r="2.05" fill="#00BF00"/>
<circle cx="608.70" cy="542.50" r="2.05" fill="#00BF00"/>
<circle cx="585.80" cy="549.80" r="2.05" fill="#00BF00"/>
<circle cx="592.50" cy="553.90" r="2.05" fill="#00BF00"/>
<circle cx="598.90" cy="553.00" r="2.05" fill="#00BF00"/>
<text class="S" x="499.60" y="613.60" font-size="12" font-weight="normal" text-anchor="start" fill="#222" textLength="123.60" lengthAdjust="spacingAndGlyphs">Anova two way, p&lt;0.05</text>
</svg>
</body></html>
